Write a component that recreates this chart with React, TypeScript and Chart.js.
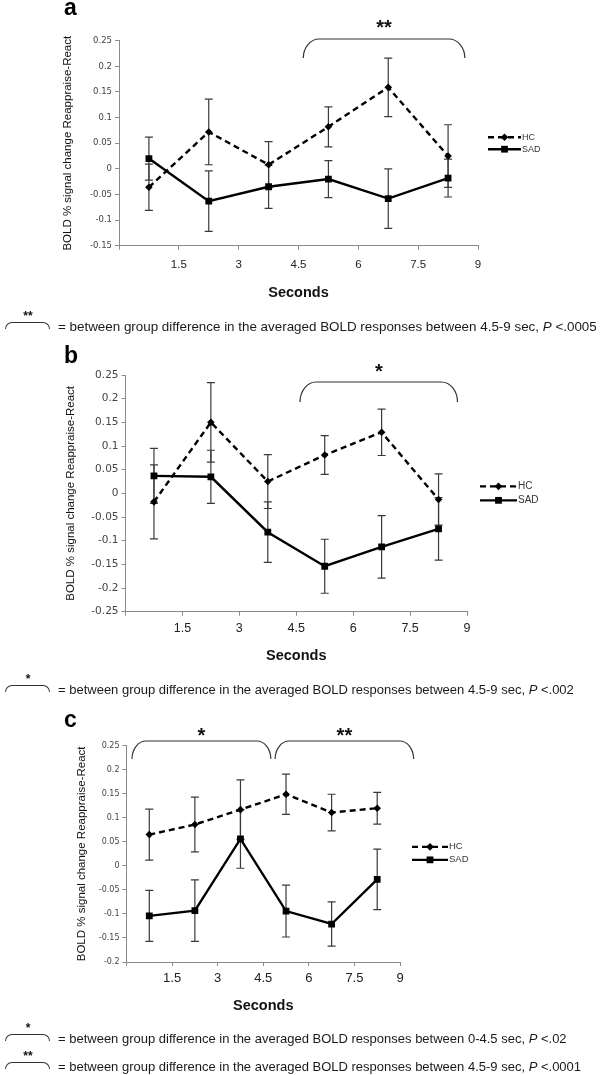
import React, { useEffect, useRef } from 'react';
import { Chart, registerables } from 'chart.js';

Chart.register(...registerables);

// ---------- data ----------
const seconds = [0.75, 2.25, 3.75, 5.25, 6.75, 8.25];
const seriesLabels = ['HC', 'SAD'];
const yTitle = 'BOLD % signal change Reappraise-React';
const xTitle = 'Seconds';

// panel a
const hcA = [-0.036, 0.072, 0.008, 0.082, 0.159, 0.025];
const hcErrA = [0.045, 0.064, 0.045, 0.039, 0.057, 0.061];
const sadA = [0.02, -0.063, -0.035, -0.02, -0.058, -0.018];
const sadErrA = [0.042, 0.059, 0.042, 0.036, 0.058, 0.037];

// panel b
const hcB = [-0.018, 0.15, 0.025, 0.081, 0.129, -0.013];
const hcErrB = [0.078, 0.084, 0.057, 0.041, 0.049, 0.054];
const sadB = [0.037, 0.035, -0.082, -0.154, -0.113, -0.075];
const sadErrB = [0.058, 0.056, 0.064, 0.057, 0.066, 0.066];

// panel c
const hcC = [0.065, 0.086, 0.117, 0.149, 0.111, 0.12];
const hcErrC = [0.053, 0.057, 0.062, 0.042, 0.038, 0.033];
const sadC = [-0.104, -0.093, 0.056, -0.094, -0.121, -0.028];
const sadErrC = [0.053, 0.064, 0.061, 0.054, 0.046, 0.063];

// significance braces (in seconds)
const bracesA = [{ from: 4.62, to: 8.67, mark: '**' }];
const bracesB = [{ from: 4.6, to: 8.75, mark: '*' }];
const bracesC = [
  { from: 0.18, to: 4.75, mark: '*' },
  { from: 4.89, to: 9.45, mark: '**' },
];

// footnotes
const footA = [{ mark: '**', range: '4.5-9', p: '.0005' }];
const footB = [{ mark: '*', range: '4.5-9', p: '.002' }];
const footC = [
  { mark: '*', range: '0-4.5', p: '.02' },
  { mark: '**', range: '4.5-9', p: '.0001' },
];

// ---------- styles / layout ----------
const FONT = '"Liberation Sans", Arial, Helvetica, sans-serif';
const TICK_FONT = '"DejaVu Sans", Verdana, sans-serif';

const layoutA = {
  canvasTop: 0, canvasH: 310, left: 119, right: 478, top: 40.7, bottom: 245.7,
  yMin: -0.15, yMax: 0.25, yTitleX: 68, xTitleY: 293, yTickFont: 8.5, xTickFont: 11.5,
  xLabelGap: 19.3, braceTop: 39, braceBottom: 58, braceRx: 16, starY: 23,
  legendOffset: 10, legendLen: 33, legendRows: [-6, 6], legendFont: 9,
  letterBaseline: 15, footBaselines: [331], footFont: 13.4,
};
const layoutB = {
  canvasTop: 335, canvasH: 335, left: 125.5, right: 467, top: 375, bottom: 611.7,
  yMin: -0.25, yMax: 0.25, yTitleX: 71, xTitleY: 656, yTickFont: 10.5, xTickFont: 12.5,
  xLabelGap: 17.3, braceTop: 382, braceBottom: 402, braceRx: 16, starY: 367,
  legendOffset: 13, legendLen: 37, legendRows: [-7, 7], legendFont: 10,
  letterBaseline: 363, footBaselines: [694], footFont: 13,
};
const layoutC = {
  canvasTop: 705, canvasH: 315, left: 126.5, right: 400, top: 745.7, bottom: 962,
  yMin: -0.2, yMax: 0.25, yTitleX: 82, xTitleY: 1006, yTickFont: 8, xTickFont: 13,
  xLabelGap: 16, braceTop: 741, braceBottom: 759, braceRx: 14, starY: 731,
  legendOffset: 12, legendLen: 36, legendRows: [-7, 6], legendFont: 9.5,
  letterBaseline: 727, footBaselines: [1042.7, 1071], footFont: 13,
};

const panels = [
  { letter: 'a', hc: hcA, hcErr: hcErrA, sad: sadA, sadErr: sadErrA, braces: bracesA, foot: footA, L: layoutA },
  { letter: 'b', hc: hcB, hcErr: hcErrB, sad: sadB, sadErr: sadErrB, braces: bracesB, foot: footB, L: layoutB },
  { letter: 'c', hc: hcC, hcErr: hcErrC, sad: sadC, sadErr: sadErrC, braces: bracesC, foot: footC, L: layoutC },
];

// ---------- plugins ----------
const errorBarPlugin = {
  id: 'errorBars',
  beforeDatasetsDraw(chart: any) {
    const { ctx } = chart;
    const y = chart.scales.y;
    chart.data.datasets.forEach((ds: any, i: number) => {
      const errs = ds.errors;
      if (!errs) return;
      const meta = chart.getDatasetMeta(i);
      ctx.save();
      ctx.strokeStyle = '#3a3a3a';
      ctx.lineWidth = 1.2;
      meta.data.forEach((pt: any, j: number) => {
        const v = ds.data[j].y;
        const e = errs[j];
        const yt = y.getPixelForValue(v + e);
        const yb = y.getPixelForValue(v - e);
        const x = pt.x;
        ctx.beginPath();
        ctx.moveTo(x, yt);
        ctx.lineTo(x, yb);
        ctx.moveTo(x - 4, yt);
        ctx.lineTo(x + 4, yt);
        ctx.moveTo(x - 4, yb);
        ctx.lineTo(x + 4, yb);
        ctx.stroke();
      });
      ctx.restore();
    });
  },
};

const bracePlugin = {
  id: 'braces',
  afterDraw(chart: any, _args: any, opts: any) {
    const { ctx } = chart;
    const xs = chart.scales.x;
    const yt = opts.top;
    const yb = opts.bottom;
    const h = yb - yt;
    (opts.items || []).forEach((b: any) => {
      const x0 = xs.getPixelForValue(b.from);
      const x1 = xs.getPixelForValue(b.to);
      const rx = opts.rx;
      ctx.save();
      ctx.strokeStyle = '#333';
      ctx.lineWidth = 1.2;
      ctx.beginPath();
      ctx.moveTo(x0, yb);
      ctx.bezierCurveTo(x0, yt + 0.448 * h, x0 + 0.448 * rx, yt, x0 + rx, yt);
      ctx.lineTo(x1 - rx, yt);
      ctx.bezierCurveTo(x1 - 0.448 * rx, yt, x1, yt + 0.448 * h, x1, yb);
      ctx.stroke();
      const fs = 20;
      ctx.font = `bold ${fs}px ${FONT}`;
      ctx.fillStyle = '#111';
      ctx.textAlign = 'center';
      ctx.textBaseline = 'alphabetic';
      ctx.fillText(b.mark, (x0 + x1) / 2, opts.starY + 0.55 * fs);
      ctx.restore();
    });
  },
};

const sideLegendPlugin = {
  id: 'sideLegend',
  afterDraw(chart: any, _args: any, opts: any) {
    const { ctx, chartArea } = chart;
    const x0 = chartArea.right + opts.offset;
    const x1 = x0 + opts.length;
    const mid = (chartArea.top + chartArea.bottom) / 2;
    chart.data.datasets.forEach((ds: any, i: number) => {
      const y = mid + opts.rows[i];
      ctx.save();
      ctx.strokeStyle = ds.borderColor;
      ctx.lineWidth = ds.borderWidth;
      ctx.setLineDash(ds.borderDash || []);
      ctx.beginPath();
      ctx.moveTo(x0, y);
      ctx.lineTo(x1, y);
      ctx.stroke();
      ctx.setLineDash([]);
      ctx.fillStyle = '#000';
      const cx = (x0 + x1) / 2;
      if (ds.pointStyle === 'rectRot') {
        const r = ds.pointRadius;
        ctx.beginPath();
        ctx.moveTo(cx, y - r);
        ctx.lineTo(cx + r, y);
        ctx.lineTo(cx, y + r);
        ctx.lineTo(cx - r, y);
        ctx.closePath();
        ctx.fill();
      } else {
        const s = ds.pointRadius * Math.SQRT1_2;
        ctx.fillRect(cx - s, y - s, 2 * s, 2 * s);
      }
      ctx.font = `${opts.fontSize}px ${FONT}`;
      ctx.fillStyle = '#333';
      ctx.textAlign = 'left';
      ctx.textBaseline = 'middle';
      ctx.fillText(ds.label, x1 + 1, y);
      ctx.restore();
    });
  },
};

// ---------- components ----------
function Panel({ p }: { p: any }) {
  const ref = useRef<HTMLCanvasElement>(null);
  useEffect(() => {
    const L = p.L;
    const yTitleSize = 11.5;
    const xTitleSize = 14.5;
    const padLeft = L.yTitleX - (yTitleSize * 1.2) / 2;
    const yWidth = L.left - padLeft;
    const xH = L.xTitleY + (xTitleSize * 1.2) / 2 - L.bottom;
    const padTop = L.top - L.canvasTop;
    const padBottom = L.canvasH - (L.bottom - L.canvasTop) - xH;
    const padRight = 600 - L.right;
    const xTickPad = L.xLabelGap - 4 - (L.xTickFont * 1.2) / 2;
    const axisColor = '#8a8a8a';

    const chart = new Chart(ref.current as HTMLCanvasElement, {
      type: 'line',
      data: {
        datasets: [
          {
            label: seriesLabels[0],
            data: seconds.map((s, i) => ({ x: s, y: p.hc[i] })),
            errors: p.hcErr,
            borderColor: '#000',
            backgroundColor: '#000',
            borderWidth: 2.4,
            borderDash: [6, 4],
            pointStyle: 'rectRot',
            pointRadius: 3.8,
            pointBorderWidth: 0,
            pointBackgroundColor: '#000',
            pointBorderColor: '#000',
            tension: 0,
            fill: false,
          } as any,
          {
            label: seriesLabels[1],
            data: seconds.map((s, i) => ({ x: s, y: p.sad[i] })),
            errors: p.sadErr,
            borderColor: '#000',
            backgroundColor: '#000',
            borderWidth: 2.4,
            pointStyle: 'rect',
            pointRadius: 4.8,
            pointBorderWidth: 0,
            pointBackgroundColor: '#000',
            pointBorderColor: '#000',
            tension: 0,
            fill: false,
          } as any,
        ],
      },
      options: {
        responsive: false,
        animation: false,
        events: [],
        layout: { padding: { left: padLeft, right: padRight, top: padTop, bottom: padBottom } },
        plugins: {
          legend: { display: false },
          tooltip: { enabled: false },
          braces: {
            items: p.braces,
            top: L.braceTop - L.canvasTop,
            bottom: L.braceBottom - L.canvasTop,
            rx: L.braceRx,
            starY: L.starY - L.canvasTop,
          },
          sideLegend: {
            offset: L.legendOffset,
            length: L.legendLen,
            rows: L.legendRows,
            fontSize: L.legendFont,
          },
        } as any,
        scales: {
          x: {
            type: 'linear',
            min: 0,
            max: 9,
            ticks: {
              stepSize: 1.5,
              autoSkip: false,
              maxRotation: 0,
              callback: (v: any) => (v === 0 ? '' : String(v)),
              font: { family: FONT, size: L.xTickFont },
              color: '#222',
              padding: xTickPad,
            },
            grid: { display: true, drawOnChartArea: false, drawTicks: true, tickLength: 4, color: axisColor },
            border: { display: true, color: axisColor, width: 1 },
            title: {
              display: true,
              text: xTitle,
              font: { family: FONT, size: xTitleSize, weight: 'bold' },
              color: '#111',
              padding: 0,
            },
            afterFit: (s: any) => {
              s.height = xH;
            },
          },
          y: {
            type: 'linear',
            min: L.yMin,
            max: L.yMax,
            ticks: {
              stepSize: 0.05,
              autoSkip: false,
              callback: (v: any) => String(Math.round(Number(v) * 100) / 100),
              font: { family: TICK_FONT, size: L.yTickFont },
              color: '#444',
              padding: 3,
            },
            grid: { display: true, drawOnChartArea: false, drawTicks: true, tickLength: 4, color: axisColor },
            border: { display: true, color: axisColor, width: 1 },
            title: {
              display: true,
              text: yTitle,
              font: { family: FONT, size: yTitleSize },
              color: '#111',
              padding: 0,
            },
            afterFit: (s: any) => {
              s.width = yWidth;
            },
          },
        },
      } as any,
      plugins: [errorBarPlugin, bracePlugin, sideLegendPlugin],
    });
    return () => chart.destroy();
  }, [p]);

  return (
    <canvas
      ref={ref}
      width={600}
      height={p.L.canvasH}
      style={{ position: 'absolute', left: 0, top: p.L.canvasTop, width: 600, height: p.L.canvasH }}
    />
  );
}

function Footnote({ f, baseline, size }: { f: any; baseline: number; size: number }) {
  const starSize = 12;
  const textTop = baseline - 0.85 * size;
  const starCenter = baseline - 17;
  return (
    <>
      <div
        style={{
          position: 'absolute',
          left: 5,
          width: 46,
          top: starCenter - 3.6,
          textAlign: 'center',
          fontFamily: FONT,
          fontWeight: 'bold',
          fontSize: starSize,
          lineHeight: 1,
          color: '#111',
        }}
      >
        {f.mark}
      </div>
      <div
        style={{
          position: 'absolute',
          left: 5,
          width: 45,
          top: baseline - 9,
          height: 7,
          borderTop: '1px solid #333',
          borderLeft: '1px solid #333',
          borderRight: '1px solid #333',
          borderRadius: '7px 7px 0 0',
          boxSizing: 'border-box',
        }}
      />
      <div
        style={{
          position: 'absolute',
          left: 58,
          top: textTop,
          fontFamily: FONT,
          fontSize: size,
          lineHeight: 1,
          color: '#1a1a1a',
          whiteSpace: 'nowrap',
        }}
      >
        = between group difference in the averaged BOLD responses between {f.range} sec, <i>P</i> &lt;{f.p}
      </div>
    </>
  );
}

export default function App() {
  return (
    <div
      style={{
        position: 'absolute',
        left: 0,
        top: 0,
        width: 600,
        height: 1075,
        background: '#fff',
        overflow: 'hidden',
      }}
    >
      {panels.map((p) => (
        <React.Fragment key={p.letter}>
          <Panel p={p} />
          <div
            style={{
              position: 'absolute',
              left: 64,
              top: p.L.letterBaseline - 19.5,
              fontFamily: FONT,
              fontWeight: 'bold',
              fontSize: 23,
              lineHeight: 1,
              color: '#000',
            }}
          >
            {p.letter}
          </div>
          {p.foot.map((f: any, i: number) => (
            <Footnote key={i} f={f} baseline={p.L.footBaselines[i]} size={p.L.footFont} />
          ))}
        </React.Fragment>
      ))}
    </div>
  );
}
